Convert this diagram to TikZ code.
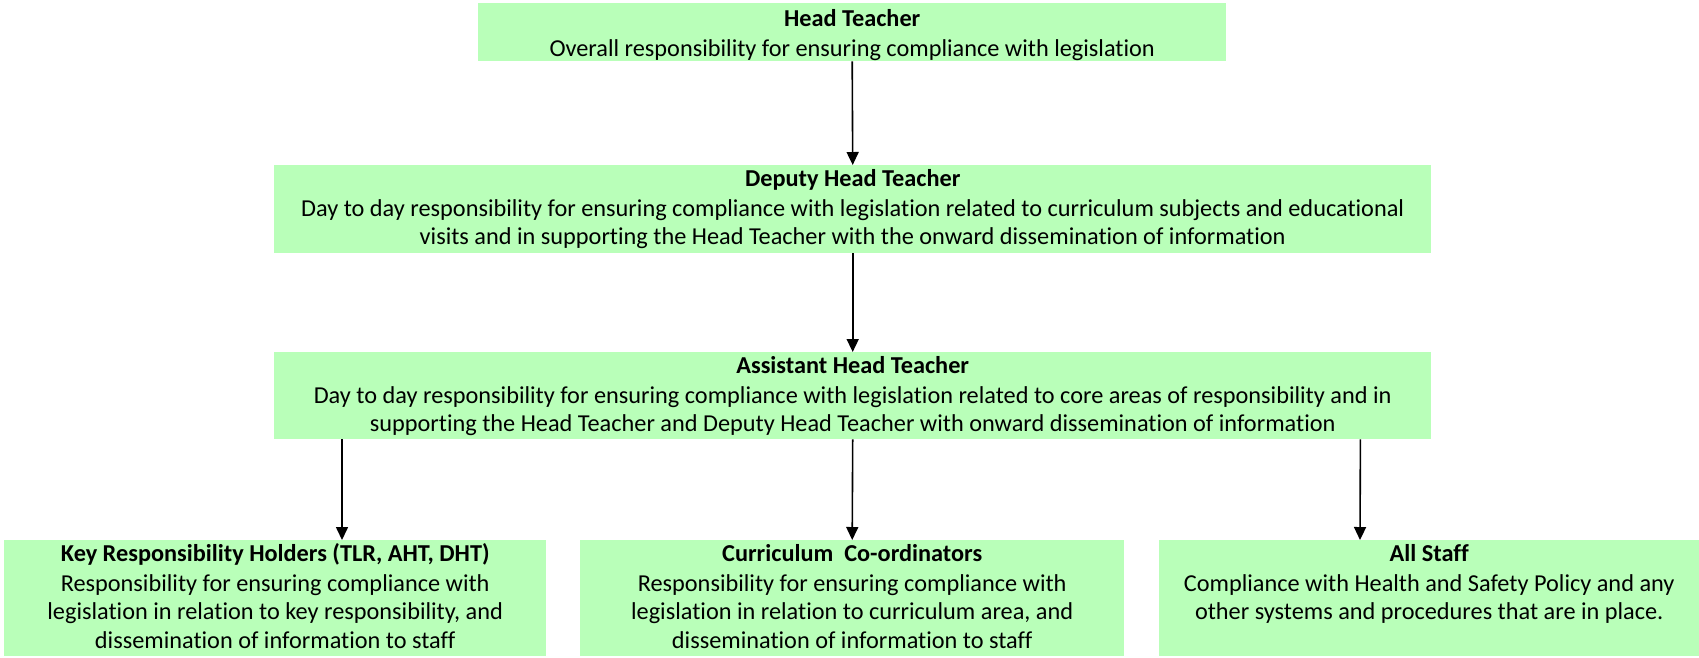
\documentclass[tikz,border=0pt]{standalone}
\usepackage{fontspec}
\setmainfont{Carlito}[Ligatures=NoCommon]
\usetikzlibrary{arrows.meta}
\definecolor{boxgreen}{RGB}{185,255,185}
\newcommand{\orgtext}[5]{\parbox[c][#2][t]{#1}{\centering\fontsize{24.3}{28.2}\selectfont\rule{0pt}{#3}\textbf{#4}\\[2.2pt]#5}}
\begin{document}
\begin{tikzpicture}[x=1pt,y=-1pt,
  orgbox/.style={fill=boxgreen, inner sep=0pt, anchor=north west},
  link/.style={-{Triangle[length=13pt,width=12pt]}, line width=1.6pt, black}]
\useasboundingbox (0,0) rectangle (1699,657);
\node[orgbox] (head) at (478,3) {\orgtext{748pt}{58pt}{23pt}{Head Teacher}{Overall responsibility for ensuring compliance with legislation}};
\node[orgbox] (deputy) at (274,165) {\orgtext{1157pt}{88pt}{21pt}{Deputy Head Teacher}{Day to day responsibility for ensuring compliance with legislation related to curriculum subjects and educational\\visits and in supporting the Head Teacher with the onward dissemination of information}};
\node[orgbox] (assist) at (274,352) {\orgtext{1157pt}{87pt}{21pt}{Assistant Head Teacher}{Day to day responsibility for ensuring compliance with legislation related to core areas of responsibility and in\\supporting the Head Teacher and Deputy Head Teacher with onward dissemination of information}};
\node[orgbox] (key) at (4,540) {\orgtext{542pt}{116pt}{21pt}{Key Responsibility Holders (TLR, AHT, DHT)}{Responsibility for ensuring compliance with\\legislation in relation to key responsibility, and\\dissemination of information to staff}};
\node[orgbox] (curric) at (580,540) {\orgtext{544pt}{116pt}{21pt}{Curriculum\ \ Co-ordinators}{Responsibility for ensuring compliance with\\legislation in relation to curriculum area, and\\dissemination of information to staff}};
\node[orgbox] (all) at (1159,540) {\orgtext{540pt}{116pt}{21pt}{All Staff}{Compliance with Health and Safety Policy and any\\other systems and procedures that are in place.}};
\draw[link] (head.south) -- (deputy.north);
\draw[link] (deputy.south) -- (assist.north);
\draw[link] ([xshift=68pt]assist.south west) -- ([xshift=338pt]key.north west);
\draw[link] (assist.south) -- (curric.north);
\draw[link] ([xshift=-71pt]assist.south east) -- ([xshift=201pt]all.north west);
\end{tikzpicture}
\end{document}
